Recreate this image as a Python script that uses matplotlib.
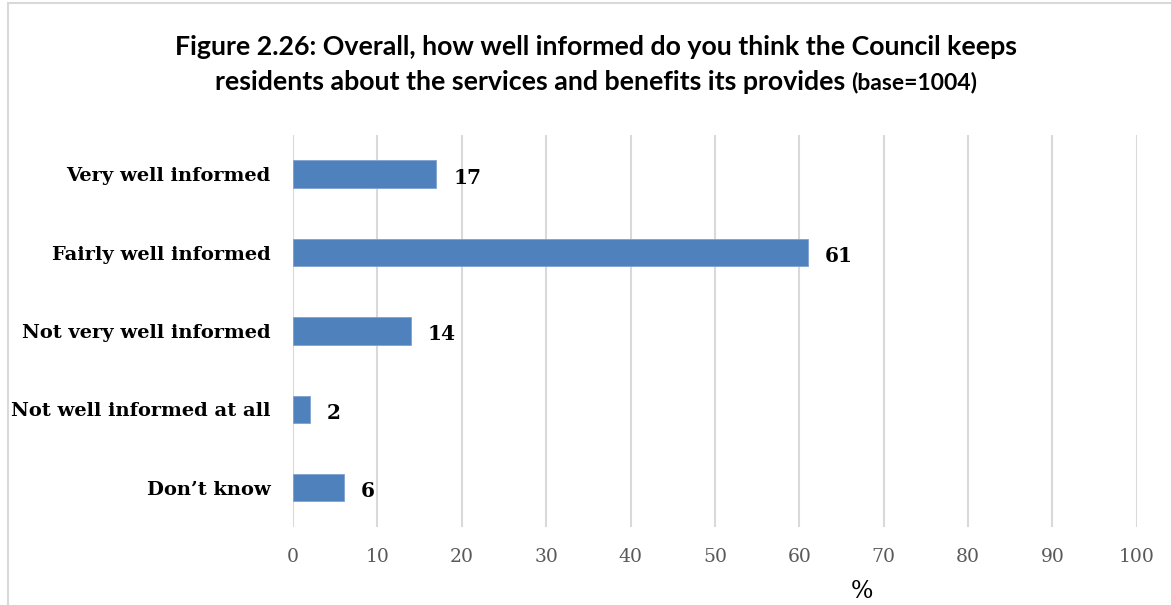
import matplotlib.pyplot as plt
from matplotlib.patches import Rectangle

categories = ['Very well informed', 'Fairly well informed', 'Not very well informed',
              'Not well informed at all', 'Don\u2019t know']
values = [17, 61, 14, 2, 6]
xticks = list(range(0, 101, 10))

fig = plt.figure(figsize=(11.71, 6.05), dpi=100)
ax = fig.add_axes([0.2502, 0.129, 0.7206, 0.648])

ypos = list(range(len(categories)))
ax.barh(ypos, values, height=0.35, color='#4F81BD', edgecolor='#7FA1D0', linewidth=0.6, zorder=3)
for y, v in zip(ypos, values):
    ax.annotate(str(v), (v, y), xytext=(12, -1), textcoords='offset points',
                ha='left', va='center_baseline', fontsize=14.5, fontweight='bold',
                family='DejaVu Serif', color='black')

ax.set_xlim(0, 100)
ax.set_ylim(4.5, -0.5)
ax.set_xticks(xticks)
ax.set_yticks(ypos)
ax.set_yticklabels(categories, family='DejaVu Serif', fontweight='bold', fontsize=14,
                   va='center_baseline')
ax.tick_params(axis='y', length=0, pad=16)
ax.tick_params(axis='x', length=0, pad=15, labelsize=13.5, labelcolor='#595959')
for lab in ax.get_xticklabels():
    lab.set_family('DejaVu Serif')
ax.grid(axis='x', color='#D9D9D9', linewidth=1.5, zorder=0)
for s in ax.spines.values():
    s.set_visible(False)
ax.set_xlabel('%', family='DejaVu Serif', fontsize=17, labelpad=0)
ax.xaxis.set_label_coords(0.674, -0.135)

fig.text(0.509, 0.922, 'Figure 2.26: Overall, how well informed do you think the Council keeps',
         ha='center', va='center', fontsize=19.3, fontweight='bold', family='Lato')

# second title line: main part plus smaller "(base=1004)", centred together
fig.canvas.draw()
r = fig.canvas.get_renderer()
main = fig.text(0, 0.864, 'residents about the services and benefits its provides ',
                ha='left', va='center', fontsize=19.3, fontweight='bold', family='Lato')
base = fig.text(0, 0.864, '(base=1004)', ha='left', va='center', fontsize=16.5,
                fontweight='bold', family='Lato')
w1 = main.get_window_extent(r).width / fig.bbox.width
w2 = base.get_window_extent(r).width / fig.bbox.width
x0 = 0.509 - (w1 + w2) / 2
main.set_x(x0)
base.set_x(x0 + w1)

# chart frame
fig.patches.append(Rectangle((0.007, -0.05), 1.1, 1.045, transform=fig.transFigure,
                             fill=False, edgecolor='#D9D9D9', linewidth=1.5))

fig.savefig('out.png', dpi=100)
